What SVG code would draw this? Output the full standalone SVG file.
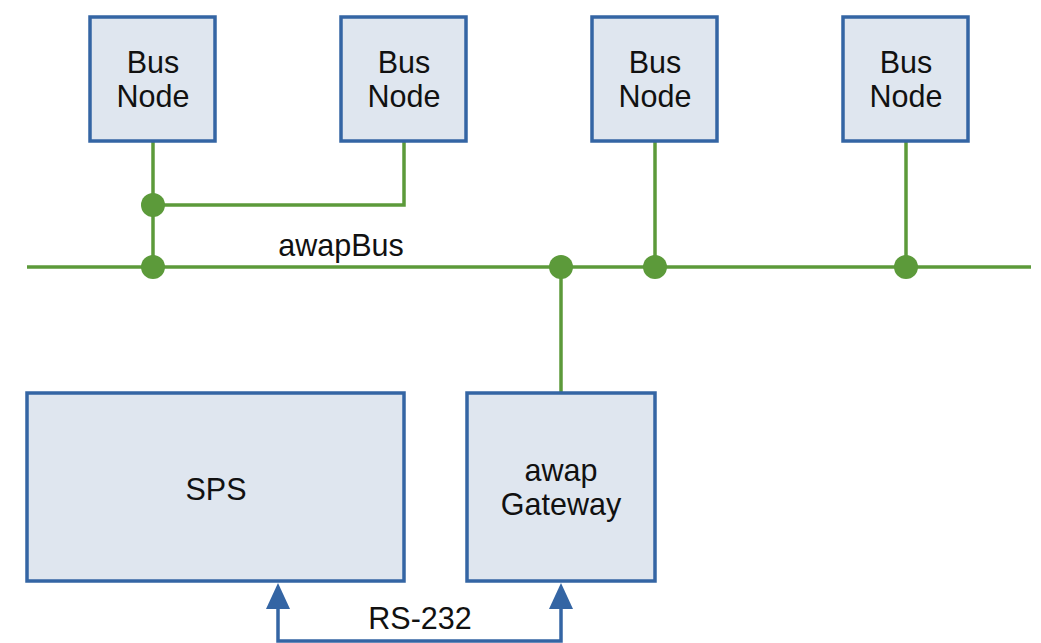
<svg xmlns="http://www.w3.org/2000/svg" width="1041" height="643" viewBox="0 0 1041 643">
<style>
.box{fill:#dfe6ef;stroke:#3465a4;stroke-width:3.5}
.t{font-family:"Liberation Sans",Arial,sans-serif;font-size:30.5px;fill:#111;text-anchor:middle}
.g{stroke:#5c9a3a;stroke-width:3.5;fill:none}
.b{stroke:#3465a4;stroke-width:3.5;fill:none}
.dot{fill:#5c9a3a}
.arr{fill:#3465a4}
</style>
<rect width="1041" height="643" fill="#fff"/>
<g id="connectors">
<line class="g" x1="27" y1="267" x2="1031" y2="267"/>
<path class="g" d="M153 142 V267"/>
<path class="g" d="M153 205 H404 V142"/>
<path class="g" d="M655 142 V267"/>
<path class="g" d="M906 142 V267"/>
<path class="g" d="M561 267 V393"/>
<circle class="dot" cx="153" cy="205" r="12"/>
<circle class="dot" cx="153" cy="267" r="12"/>
<circle class="dot" cx="561" cy="267" r="12"/>
<circle class="dot" cx="655" cy="267" r="12"/>
<circle class="dot" cx="906" cy="267" r="12"/>
<path class="b" d="M278 600 V641 H561 V600"/>
<path class="arr" d="M278 583 L290 609 L266 609 Z"/>
<path class="arr" d="M561 583 L573 609 L549 609 Z"/>
<text class="t" x="341" y="256">awapBus</text>
<text class="t" x="420" y="629">RS-232</text>
</g>
<g id="node1"><rect class="box" x="90" y="17" width="125" height="124"/><text class="t" x="153" y="73">Bus</text><text class="t" x="153" y="107">Node</text></g>
<g id="node2"><rect class="box" x="341" y="17" width="125" height="124"/><text class="t" x="404" y="73">Bus</text><text class="t" x="404" y="107">Node</text></g>
<g id="node3"><rect class="box" x="592" y="17" width="125" height="124"/><text class="t" x="655" y="73">Bus</text><text class="t" x="655" y="107">Node</text></g>
<g id="node4"><rect class="box" x="843" y="17" width="125" height="124"/><text class="t" x="906" y="73">Bus</text><text class="t" x="906" y="107">Node</text></g>
<g id="sps"><rect class="box" x="27" y="393" width="377" height="188"/><text class="t" x="216" y="500">SPS</text></g>
<g id="gateway"><rect class="box" x="467" y="393" width="188" height="188"/><text class="t" x="561" y="481">awap</text><text class="t" x="561" y="515">Gateway</text></g>
</svg>
